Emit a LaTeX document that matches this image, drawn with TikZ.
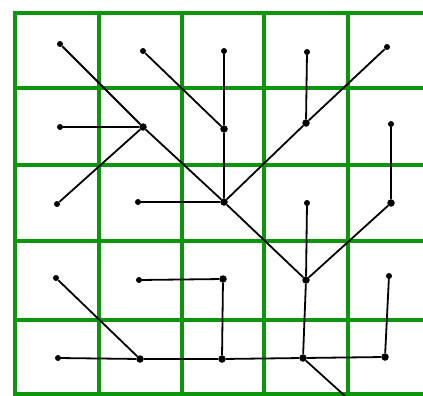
\documentclass[tikz,border=0pt]{standalone}
\definecolor{gridgreen}{RGB}{12,150,12}
\begin{document}
\begin{tikzpicture}[x=1pt,y=-1pt,
  gridline/.style={draw=gridgreen,line width=4pt},
  edge/.style={draw=black,line width=1.8pt},
  leaf/.style={circle,fill=black,inner sep=0pt,minimum size=6pt},
  junc/.style={circle,fill=black,inner sep=0pt,minimum size=7.5pt}]
\useasboundingbox (0,0) rectangle (423,396);
\fill[white] (0,0) rectangle (423,396);
% grid
\foreach \x in {15,99,182,264,348} \draw[gridline] (\x,13) -- (\x,394);
\foreach \y in {13,88,165,241,320,394} \draw[gridline] (13,\y) -- (423,\y);
% row 1
\node[leaf] (a1) at (60,44) {};
\node[leaf] (b1) at (143,51) {};
\node[leaf] (c1) at (224,51) {};
\node[leaf] (d1) at (307,52) {};
\node[leaf] (e1) at (387,47) {};
% row 2
\node[leaf] (a2) at (60,127) {};
\node[junc] (b2) at (143,127) {};
\node[junc] (c2) at (224,129) {};
\node[junc] (d2) at (306,123) {};
\node[leaf] (e2) at (391,124) {};
% row 3
\node[leaf] (a3) at (57,204) {};
\node[leaf] (b3) at (138,202) {};
\node[junc] (c3) at (224,202) {};
\node[leaf] (d3) at (307,203) {};
\node[junc] (e3) at (391,203) {};
% row 4
\node[leaf] (a4) at (56,278) {};
\node[leaf] (b4) at (139,280) {};
\node[junc] (c4) at (223,279) {};
\node[junc] (d4) at (306,280) {};
\node[leaf] (e4) at (389,276) {};
% row 5
\node[leaf] (a5) at (58,358) {};
\node[junc] (b5) at (140,359) {};
\node[junc] (c5) at (222,359) {};
\node[junc] (d5) at (303,358) {};
\node[junc] (e5) at (385,357) {};
\coordinate (out) at (345,396);
% edges
\draw[edge] (a1) -- (b2) -- (c3);
\draw[edge] (a2) -- (b2);
\draw[edge] (a3) -- (b2);
\draw[edge] (b1) -- (c2);
\draw[edge] (c1) -- (c2) -- (c3);
\draw[edge] (b3) -- (c3);
\draw[edge] (e1) -- (d2) -- (c3);
\draw[edge] (d1) -- (d2);
\draw[edge] (c3) -- (d4);
\draw[edge] (e2) -- (e3) -- (d4);
\draw[edge] (d3) -- (d4) -- (d5);
\draw[edge] (a4) -- (b5);
\draw[edge] (a5) -- (b5) -- (c5) -- (d5) -- (e5);
\draw[edge] (b4) -- (c4) -- (c5);
\draw[edge] (e4) -- (e5);
\draw[edge] (d5) -- (out);
\end{tikzpicture}
\end{document}
